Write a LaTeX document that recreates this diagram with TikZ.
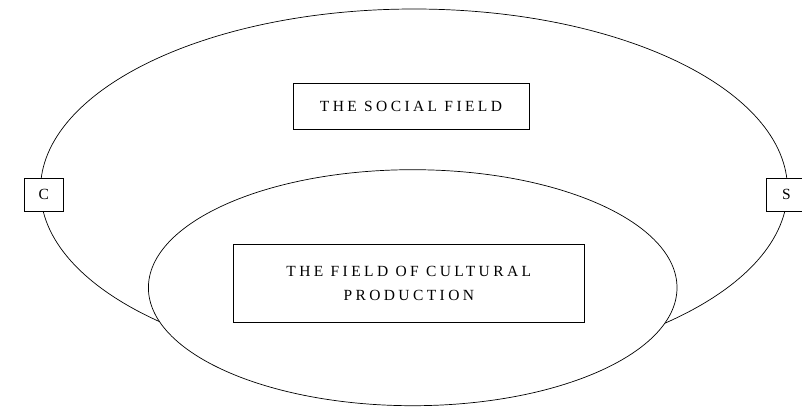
\documentclass[tikz,border=0pt]{standalone}
\usepackage{fontspec}
\setmainfont{Liberation Serif}
\newfontfamily\capsfont[LetterSpace=22]{Liberation Serif}
\usetikzlibrary{shapes.geometric}

\begin{document}
\begin{tikzpicture}[
    x=1pt, y=-1pt,
    field/.style={ellipse, draw, fill=white, line width=0.7pt, inner sep=0pt},
    title/.style={rectangle, draw, line width=0.7pt, align=center, inner sep=0pt,
        font=\capsfont\fontsize{15.5}{23.3}\selectfont},
    pole/.style={rectangle, draw, fill=white, line width=0.7pt, inner sep=0pt,
        minimum width=39pt, minimum height=33pt, font=\capsfont\fontsize{15.5}{16}\selectfont}
]
\useasboundingbox (0,0) rectangle (802,407);

% === Outer field ===
\node[field, minimum width=747pt, minimum height=361pt] (social) at (414,189.5) {};
\node[title, minimum width=236pt, minimum height=46pt] (socialtitle) at (411,106) {THE SOCIAL FIELD};

% === Inner field ===
\node[field, minimum width=528.6pt, minimum height=236pt] (cultural) at (412.7,287.7) {};
\node[title, minimum width=351pt, minimum height=78pt] (culturaltitle) at (408.8,283.5) {THE FIELD OF CULTURAL\\PRODUCTION};

% === Poles ===
\node[pole] (c) at (43.7,194.8) {C};
\node[pole] (s) at (786.3,194.8) {S};
\end{tikzpicture}
\end{document}
